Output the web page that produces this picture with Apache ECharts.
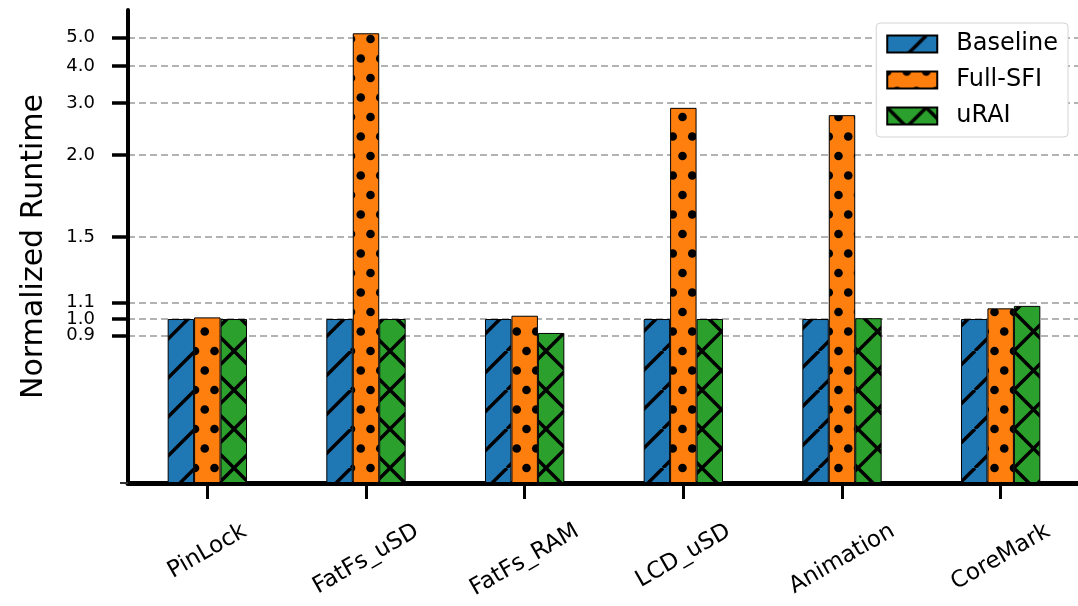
<!DOCTYPE html>
<html>
<head>
<meta charset="utf-8">
<script src="https://cdn.jsdelivr.net/npm/echarts@6/dist/echarts.min.js"></script>
<style>
  html, body { margin: 0; padding: 0; background: #fff; }
  #chart { width: 1078px; height: 606px; }
</style>
</head>
<body>
<div id="chart"></div>
<script>
// Benchmarks and normalized runtimes per configuration
const categories = ['PinLock', 'FatFs_uSD', 'FatFs_RAM', 'LCD_uSD', 'Animation', 'CoreMark'];
const baseline = [1.0, 1.0, 1.0, 1.0, 1.0, 1.0];
const fullSfi  = [1.01, 5.17, 1.02, 2.89, 2.73, 1.065];
const urai     = [1.0, 1.0, 0.915, 1.0, 1.005, 1.08];
const seriesNames = ['Baseline', 'Full-SFI', 'uRAI'];
const yTicks = [0.9, 1.0, 1.1, 1.5, 2.0, 3.0, 4.0, 5.0];
const yTop = 6.2;

// Symmetric-log scale: linear up to LINTHRESH, logarithmic above it
const LINTHRESH = 2;
const DECADE = 1.8;
function fwd(v) { return v <= LINTHRESH ? v : LINTHRESH + DECADE * Math.log10(v / LINTHRESH); }
function inv(t) { return t <= LINTHRESH ? t : LINTHRESH * Math.pow(10, (t - LINTHRESH) / DECADE); }

const FONT = '"DejaVu Sans", "Liberation Sans", sans-serif';
const TILE = 39;

function makeTile(bg, kind) {
  const c = document.createElement('canvas');
  c.width = TILE; c.height = TILE;
  const g = c.getContext('2d');
  g.fillStyle = bg;
  g.fillRect(0, 0, TILE, TILE);
  g.strokeStyle = '#000';
  g.fillStyle = '#000';
  g.lineWidth = 3.4;
  if (kind === 'slash' || kind === 'cross') {
    for (let k = -1; k <= 1; k++) {
      g.beginPath();
      g.moveTo(k * TILE, TILE);
      g.lineTo(k * TILE + TILE, 0);
      g.stroke();
    }
  }
  if (kind === 'cross') {
    for (let k = -1; k <= 1; k++) {
      g.beginPath();
      g.moveTo(k * TILE, 0);
      g.lineTo(k * TILE + TILE, TILE);
      g.stroke();
    }
  }
  if (kind === 'dots') {
    const step = TILE / 2;
    for (let j = -1; j <= 3; j++) {
      for (let i = -1; i <= 3; i++) {
        const x = i * step + (j % 2 !== 0 ? step / 2 : 0);
        const y = j * step;
        g.beginPath();
        g.arc(x, y, 4.3, 0, Math.PI * 2);
        g.fill();
      }
    }
  }
  return c;
}

const fills = [
  { image: makeTile('#1f77b4', 'slash'), repeat: 'repeat' },
  { image: makeTile('#ff7f0e', 'dots'), repeat: 'repeat' },
  { image: makeTile('#2ca02c', 'cross'), repeat: 'repeat' }
];

// Rotated tick labels: centred under each tick with their tops on one line.
// Each label gets its own rich style whose padding shifts it straight down.
const LABEL_SIZE = 23;
const LABEL_TOP = 518;
const AXIS_Y = 483;
const LABEL_MARGIN = 66;
const measure = document.createElement('canvas').getContext('2d');
measure.font = LABEL_SIZE + 'px ' + FONT;
const sin30 = 0.5, cos30 = Math.sqrt(3) / 2;
const labelRich = {};
categories.forEach(function (name, i) {
  const w = measure.measureText(name).width;
  const h = LABEL_SIZE * 1.17;
  const boxH = w * sin30 + h * cos30;
  const d = Math.max(0, LABEL_TOP + boxH / 2 - (AXIS_Y + LABEL_MARGIN));
  labelRich['c' + i] = {
    fontSize: LABEL_SIZE,
    color: '#000',
    fontFamily: FONT,
    padding: [d * 1.732, d, 0, 0]
  };
});

const seriesData = [baseline, fullSfi, urai];
const series = seriesData.map(function (vals, i) {
  return {
    type: 'bar',
    name: seriesNames[i],
    data: vals.map(fwd),
    barWidth: '16.67%',
    barGap: '0%',
    itemStyle: { color: fills[i], borderColor: '#000', borderWidth: 1 },
    emphasis: { disabled: true }
  };
});

// y-axis base settings shared by the stacked left axes
function leftAxis(extra) {
  return Object.assign({
    type: 'value',
    min: 0,
    max: fwd(yTop),
    position: 'left',
    axisLine: { show: false },
    axisTick: { show: false },
    axisLabel: { show: false },
    splitLine: { show: false }
  }, extra);
}
const labelStyle = {
  formatter: function (v) { return inv(v).toFixed(1); },
  fontSize: 18,
  margin: 33,
  color: '#000',
  fontFamily: FONT,
  showMinLabel: true,
  showMaxLabel: true,
  hideOverlap: false
};

const chart = echarts.init(document.getElementById('chart'), null, { renderer: 'canvas' });
chart.setOption({
  animation: false,
  backgroundColor: '#fff',
  textStyle: { fontFamily: FONT },
  grid: { left: 128, top: 10, right: -2, bottom: 123, containLabel: false, outerBoundsMode: 'none' },
  legend: {
    orient: 'vertical',
    right: 10,
    top: 23,
    icon: 'rect',
    itemWidth: 50,
    itemHeight: 17,
    itemGap: 12,
    padding: [9, 10, 9, 10],
    backgroundColor: '#fff',
    borderColor: '#d4d4d4',
    borderWidth: 1,
    borderRadius: 4,
    selectedMode: false,
    textStyle: { fontSize: 24, color: '#000', fontFamily: FONT, padding: [0, 0, 0, 14] },
    data: seriesNames
  },
  xAxis: [
    {
      type: 'category',
      data: categories,
      position: 'bottom',
      axisLine: { show: true, lineStyle: { color: '#000', width: 5 } },
      axisTick: { show: true, alignWithLabel: true, length: 16, lineStyle: { color: '#000', width: 3 } },
      axisLabel: {
        interval: 0,
        rotate: 30,
        align: 'center',
        verticalAlign: 'middle',
        margin: LABEL_MARGIN,
        fontSize: LABEL_SIZE,
        color: '#000',
        fontFamily: FONT,
        formatter: function (value, index) { return '{c' + index + '|' + value + '}'; },
        rich: labelRich
      },
      splitLine: { show: false }
    },
    {
      type: 'category',
      data: categories,
      position: 'top',
      axisLine: { show: true, lineStyle: { color: '#000', width: 4 } },
      axisTick: { show: false },
      axisLabel: { show: false },
      splitLine: { show: false }
    }
  ],
  yAxis: [
    leftAxis({
      name: 'Normalized Runtime',
      nameLocation: 'middle',
      nameGap: 79,
      nameTextStyle: { fontSize: 30, color: '#000', fontFamily: FONT },
      axisLine: { show: true, lineStyle: { color: '#000', width: 4 } },
      axisTick: { show: true, length: 16, customValues: yTicks.map(fwd), lineStyle: { color: '#000', width: 3.5 } },
      axisLabel: Object.assign({ customValues: yTicks.filter(function (v) { return v !== 1.0; }).map(fwd) }, labelStyle),
      splitLine: { show: true, lineStyle: { color: '#b3b3b3', width: 2, type: [7, 4] } }
    }),
    // the 1.0 label sits between two close neighbours, so it lives on its own axis
    leftAxis({
      axisLabel: Object.assign({ show: true, customValues: [fwd(1.0)] }, labelStyle)
    }),
    leftAxis({
      axisTick: { show: true, length: 8, customValues: [0], lineStyle: { color: '#333', width: 2 } }
    })
  ],
  series: series
});
</script>
</body>
</html>
